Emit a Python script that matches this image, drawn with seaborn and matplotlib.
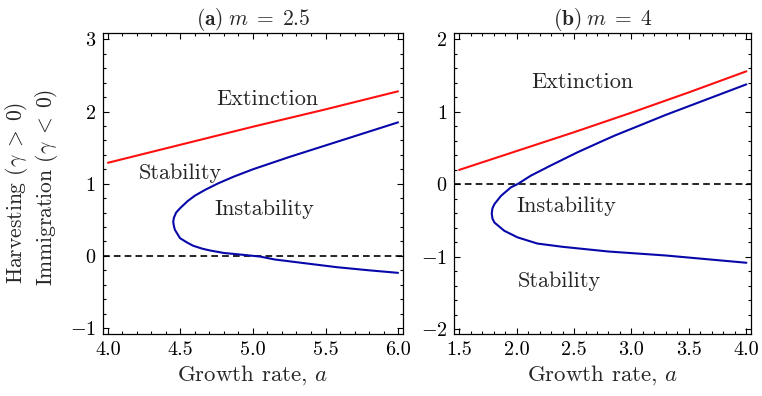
import numpy as np
import pandas as pd
import matplotlib
matplotlib.use("Agg")
import matplotlib.pyplot as plt
import seaborn as sns
from matplotlib.ticker import MultipleLocator, FormatStrFormatter

# -----------------------------
# Data
# -----------------------------
# panel (a), m = 2.5
red_a_left = [4.0, 4.5, 5.0, 5.5, 6.0]
red_g_left = [1.29, 1.54, 1.79, 2.03, 2.28]

# blue curve: lower branch (a = 6 back to the turning point), then upper branch
blue_a_left = [6.0, 5.8, 5.58, 5.35, 5.15, 5.05, 4.93, 4.8, 4.703, 4.65, 4.588, 4.55,
               4.497, 4.462, 4.455, 4.45,
               4.455, 4.47, 4.497, 4.55, 4.60, 4.67, 4.76, 4.87, 5.0, 5.25, 5.5, 5.75, 6.0]
blue_g_left = [-0.235, -0.20, -0.157, -0.10, -0.05, -0.01, 0.015, 0.04, 0.075, 0.10, 0.14, 0.18,
               0.245, 0.36, 0.41, 0.475,
               0.53, 0.60, 0.66, 0.76, 0.835, 0.915, 1.005, 1.10, 1.20, 1.37, 1.53, 1.69, 1.85]

# panel (b), m = 4
red_a_right = [1.5, 2.0, 2.5, 3.0, 3.5, 4.0]
red_g_right = [0.20, 0.46, 0.72, 0.99, 1.27, 1.56]

blue_a_right = [4.0, 3.65, 3.3, 2.8, 2.4, 2.181, 2.009, 1.894, 1.808, 1.79, 1.784,
                1.79, 1.808, 1.865, 1.951, 2.009, 2.123, 2.296, 2.526, 2.756, 2.856, 3.3, 3.65, 4.0]
blue_g_right = [-1.08, -1.03, -0.98, -0.925, -0.86, -0.815, -0.73, -0.64, -0.526, -0.47, -0.40,
                -0.33, -0.27, -0.157, -0.04, 0.005, 0.12, 0.26, 0.44, 0.605, 0.675, 0.96, 1.17, 1.38]

titles = [r"$\mathbf{(a)}\;m\;=\;2.5$", r"$\mathbf{(b)}\;m\;=\;4$"]

# -----------------------------
# Style
# -----------------------------
sns.set_style("ticks")
plt.rcParams["font.family"] = ["cmr10", "DejaVu Serif"]
plt.rcParams["mathtext.fontset"] = "cm"
plt.rcParams["axes.formatter.use_mathtext"] = True
plt.rcParams["axes.unicode_minus"] = True

red = "#ff1010"
blue = "#0808aa"

fig = plt.figure(figsize=(7.62, 3.96), dpi=100)
ax1 = fig.add_axes([0.135, 0.157, 0.394, 0.760])
ax2 = fig.add_axes([0.596, 0.157, 0.390, 0.760])

panels = [
    (ax1, red_a_left, red_g_left, blue_a_left, blue_g_left, (3.965, 6.035), (-1.08, 3.09), titles[0]),
    (ax2, red_a_right, red_g_right, blue_a_right, blue_g_right, (1.457, 4.043), (-2.06, 2.09), titles[1]),
]

for ax, ra, rg, ba, bg, xl, yl, title in panels:
    red_df = pd.DataFrame({"a": ra, "g": rg})
    blue_df = pd.DataFrame({"a": ba, "g": bg})
    ax.axhline(0, color="black", lw=1.2, ls=(0, (4, 2.5)))
    sns.lineplot(data=red_df, x="a", y="g", color=red, lw=1.5, ax=ax, sort=False, estimator=None)
    sns.lineplot(data=blue_df, x="a", y="g", color=blue, lw=1.5, ax=ax, sort=False, estimator=None)
    ax.set_xlim(*xl)
    ax.set_ylim(*yl)
    ax.xaxis.set_major_locator(MultipleLocator(0.5))
    ax.xaxis.set_minor_locator(MultipleLocator(0.1))
    ax.yaxis.set_major_locator(MultipleLocator(1))
    ax.yaxis.set_minor_locator(MultipleLocator(0.2))
    ax.xaxis.set_major_formatter(FormatStrFormatter("%.1f"))
    ax.tick_params(which="both", direction="in", top=True, right=True,
                   labelsize=14.5, width=0.8, colors="black")
    ax.tick_params(which="major", length=4.5, pad=5)
    ax.tick_params(which="minor", length=2.5)
    for s in ax.spines.values():
        s.set_linewidth(0.9)
        s.set_color("black")
    ax.set_xlabel(r"Growth rate, $a$", fontsize=16.5, labelpad=3)
    ax.set_ylabel("")
    ax.set_title(title, fontsize=15.5, pad=5)

# region labels
fs = 16
ax1.text(5.10, 2.17, "Extinction", fontsize=fs, ha="center", va="center")
ax1.text(4.50, 1.14, "Stability", fontsize=fs, ha="center", va="center")
ax1.text(5.08, 0.65, "Instability", fontsize=fs, ha="center", va="center")
ax2.text(2.57, 1.41, "Extinction", fontsize=fs, ha="center", va="center")
ax2.text(2.43, -0.30, "Instability", fontsize=fs, ha="center", va="center")
ax2.text(2.37, -1.33, "Stability", fontsize=fs, ha="center", va="center")

# two-line y label
fig.text(17 / 762, 1 - 193 / 396, r"Harvesting ($\gamma\;>\;0$)", rotation=90,
         fontsize=15.5, ha="center", va="center")
fig.text(47 / 762, 1 - 187 / 396, r"Immigration ($\gamma\;<\;0$)", rotation=90,
         fontsize=15.5, ha="center", va="center")

fig.savefig("out.png", dpi=100)
